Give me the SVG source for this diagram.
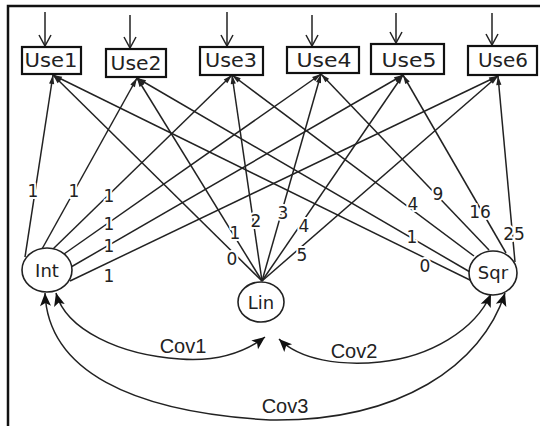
<svg xmlns="http://www.w3.org/2000/svg" width="540" height="426" viewBox="0 0 540 426">
<defs>
<style>
.ln{stroke:#222;stroke-width:1.5;fill:none;marker-end:url(#tip)}
.top{stroke:#222;stroke-width:1.5;fill:none;marker-end:url(#vee)}
.cv{stroke:#222;stroke-width:1.5;fill:none;marker-start:url(#cov);marker-end:url(#cov)}
.box{fill:#fff;stroke:#111;stroke-width:2.2}
.lat{fill:#fff;stroke:#222;stroke-width:1.6}
.bt{font-family:"DejaVu Sans",sans-serif;font-size:19px;fill:#222;text-anchor:middle}
.lt{font-family:"DejaVu Sans",sans-serif;font-size:18px;fill:#222;text-anchor:middle}
.num{font-family:"DejaVu Sans",sans-serif;font-size:17px;fill:#222;text-anchor:middle;stroke:#fff;stroke-width:4;paint-order:stroke;stroke-linejoin:round}
.cvt{font-family:"Liberation Sans",Arial,sans-serif;font-size:20px;fill:#222;text-anchor:middle}
</style>
<marker id="tip" markerUnits="userSpaceOnUse" viewBox="-10 -4 11 8" refX="0" refY="0" markerWidth="11" markerHeight="8" orient="auto">
<path d="M0,0 L-9,-2.6 L-9,2.6 z" fill="#222"/>
</marker>
<marker id="vee" markerUnits="userSpaceOnUse" viewBox="-13 -8 14 16" refX="0" refY="0" markerWidth="14" markerHeight="16" orient="auto">
<path d="M-11,-6 L0,0 L-11,6" fill="none" stroke="#222" stroke-width="1.5"/>
</marker>
<marker id="cov" markerUnits="userSpaceOnUse" viewBox="-14 -7 15 14" refX="0" refY="0" markerWidth="15" markerHeight="14" orient="auto-start-reverse">
<path d="M0,0 L-13,-5.5 L-10,0 L-13,5.5 z" fill="#111"/>
</marker>
</defs>
<rect width="540" height="426" fill="#fff"/>
<path d="M8,426 V6 H540" fill="none" stroke="#111" stroke-width="2.5"/>

<g id="connectors">
<path class="top" d="M45,12 V46"/>
<path class="top" d="M130,15 V48"/>
<path class="top" d="M227,12 V46"/>
<path class="top" d="M312,15 V46"/>
<path class="top" d="M396,13 V43"/>
<path class="top" d="M492,13 V45"/>

<path class="ln" d="M25,257 L53,75"/>
<path class="ln" d="M42,249 L137,78"/>
<path class="ln" d="M53,249 L232,75"/>
<path class="ln" d="M64,254 L321,74"/>
<path class="ln" d="M71,267 L403,75"/>
<path class="ln" d="M70,281 L498,76"/>

<path class="ln" d="M262,281 L53,75"/>
<path class="ln" d="M262,281 L137,78"/>
<path class="ln" d="M262,281 L232,75"/>
<path class="ln" d="M262,281 L321,74"/>
<path class="ln" d="M262,281 L403,75"/>
<path class="ln" d="M262,281 L498,76"/>

<path class="ln" d="M476,283 L53,75"/>
<path class="ln" d="M470,272 L137,78"/>
<path class="ln" d="M474,256 L232,75"/>
<path class="ln" d="M489,250 L321,74"/>
<path class="ln" d="M506,253 L403,75"/>
<path class="ln" d="M515,262 L498,76"/>

<path class="cv" d="M56,293 C66,330 120,355 180,359 C220,362 248,350 265,337"/>
<path class="cv" d="M279,339 C300,360 340,366 380,362 C430,357 475,330 491,294"/>
<path class="cv" d="M45,293 C48,370 130,412 270,420 C400,422 482,365 505,293"/>

<text class="num" x="33" y="197">1</text>
<text class="num" x="74" y="197">1</text>
<text class="num" x="109" y="202">1</text>
<text class="num" x="109" y="230">1</text>
<text class="num" x="109" y="252">1</text>
<text class="num" x="109" y="282">1</text>

<text class="num" x="232" y="265">0</text>
<text class="num" x="235" y="239">1</text>
<text class="num" x="256" y="227">2</text>
<text class="num" x="283" y="219">3</text>
<text class="num" x="304" y="232">4</text>
<text class="num" x="302" y="261">5</text>

<text class="num" x="425" y="272">0</text>
<text class="num" x="412" y="243">1</text>
<text class="num" x="413" y="210">4</text>
<text class="num" x="438" y="200">9</text>
<text class="num" x="480" y="218">16</text>
<text class="num" x="514" y="240">25</text>

<text class="cvt" x="183" y="353">Cov1</text>
<text class="cvt" x="354" y="358">Cov2</text>
<text class="cvt" x="285" y="413">Cov3</text>
</g>

<g id="Use1"><rect class="box" x="22" y="47" width="59" height="27"/><text class="bt" x="51" y="67" textLength="53" lengthAdjust="spacingAndGlyphs">Use1</text></g>
<g id="Use2"><rect class="box" x="106" y="49" width="60" height="28"/><text class="bt" x="136" y="70" textLength="51" lengthAdjust="spacingAndGlyphs">Use2</text></g>
<g id="Use3"><rect class="box" x="200" y="47" width="63" height="28"/><text class="bt" x="231" y="67" textLength="52" lengthAdjust="spacingAndGlyphs">Use3</text></g>
<g id="Use4"><rect class="box" x="287" y="47" width="72" height="26"/><text class="bt" x="324" y="67" textLength="55" lengthAdjust="spacingAndGlyphs">Use4</text></g>
<g id="Use5"><rect class="box" x="371" y="44" width="73" height="30"/><text class="bt" x="409" y="67" textLength="55" lengthAdjust="spacingAndGlyphs">Use5</text></g>
<g id="Use6"><rect class="box" x="468" y="46" width="69" height="29"/><text class="bt" x="503" y="67" textLength="50" lengthAdjust="spacingAndGlyphs">Use6</text></g>

<g id="Int"><ellipse class="lat" cx="47" cy="270" rx="25" ry="22"/><text class="lt" x="47" y="277">Int</text></g>
<g id="Lin"><ellipse class="lat" cx="261" cy="302" rx="23" ry="20"/><text class="lt" x="261" y="309">Lin</text></g>
<g id="Sqr"><ellipse class="lat" cx="493" cy="273" rx="24" ry="22"/><text class="lt" x="493" y="279">Sqr</text></g>
</svg>
